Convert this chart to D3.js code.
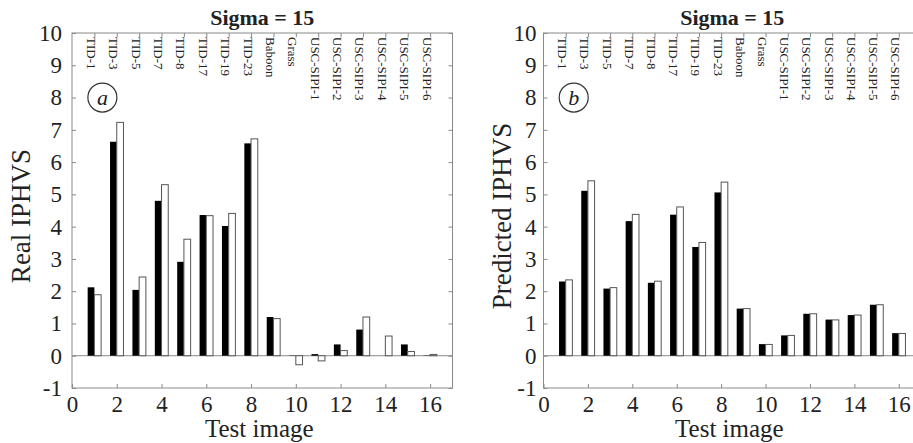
<!DOCTYPE html>
<html>
<head>
<meta charset="utf-8">
<script src="https://cdn.jsdelivr.net/npm/d3@7"></script>
<style>
  html, body { margin: 0; padding: 0; background: #fff; }
  svg { display: block; }
  text { font-family: "Liberation Serif", "Times New Roman", serif; fill: #222; }
</style>
</head>
<body>
<svg id="chart" width="913" height="443"></svg>
<script>
// ---- data ----
const imageIds = [1,2,3,4,5,6,7,8,9,10,11,12,13,14,15,16];
const imageNames = ["TID-1","TID-3","TID-5","TID-7","TID-8","TID-17","TID-19","TID-23",
  "Baboon","Grass","USC-SIPI-1","USC-SIPI-2","USC-SIPI-3","USC-SIPI-4","USC-SIPI-5","USC-SIPI-6"];
// Panel (a) Real IPHVS
const realBlack = [2.12, 6.63, 2.04, 4.80, 2.91, 4.36, 4.02, 6.58, 1.20, 0.01, 0.05, 0.35, 0.81, 0.00, 0.35, 0.01];
const realWhite = [1.89, 7.23, 2.44, 5.30, 3.61, 4.34, 4.41, 6.72, 1.15, -0.28, -0.16, 0.16, 1.20, 0.61, 0.13, 0.04];
// Panel (b) Predicted IPHVS
const predBlack = [2.30, 5.11, 2.08, 4.17, 2.26, 4.37, 3.37, 5.06, 1.46, 0.36, 0.63, 1.30, 1.12, 1.26, 1.58, 0.70];
const predWhite = [2.35, 5.42, 2.11, 4.38, 2.31, 4.61, 3.51, 5.38, 1.46, 0.35, 0.63, 1.30, 1.11, 1.26, 1.58, 0.69];
const yTicks = [-1,0,1,2,3,4,5,6,7,8,9,10];
const xTicks = [0,2,4,6,8,10,12,14,16];
const titleText = "Sigma = 15";
const xLabel = "Test image";

const svg = d3.select("#chart");

function panel(opts) {
  const x = d3.scaleLinear().domain([0, 17]).range([opts.x0, opts.x1]);
  const y = d3.scaleLinear().domain([-1, 10]).range([388, 33]);
  const g = svg.append("g");
  const stroke = "#8a8a8a";

  // zero line
  g.append("line").attr("x1", x(0)).attr("x2", x(17)).attr("y1", y(0)).attr("y2", y(0))
    .attr("stroke", stroke).attr("stroke-width", 1);

  const bw = x(0.3) - x(0);
  // black bars
  g.selectAll("rect.b").data(imageIds).join("rect").attr("class","b")
    .attr("x", d => x(d) - bw)
    .attr("width", bw)
    .attr("y", (d,i) => y(Math.max(0, opts.black[i])))
    .attr("height", (d,i) => Math.abs(y(opts.black[i]) - y(0)))
    .attr("fill", "#000");
  // white bars
  g.selectAll("rect.w").data(imageIds).join("rect").attr("class","w")
    .attr("x", d => x(d))
    .attr("width", bw)
    .attr("y", (d,i) => y(Math.max(0, opts.white[i])))
    .attr("height", (d,i) => Math.abs(y(opts.white[i]) - y(0)))
    .attr("fill", "#fff").attr("stroke", "#555").attr("stroke-width", 1)
    .attr("display", (d,i) => opts.white[i] === 0 ? "none" : null);

  // box
  g.append("rect").attr("x", x(0)).attr("y", y(10)).attr("width", x(17) - x(0)).attr("height", y(-1) - y(10))
    .attr("fill", "none").attr("stroke", stroke).attr("stroke-width", 1);

  // axes with inward ticks
  const tk = 4;
  const fmt = d => String(d);
  const yl = g.append("g").attr("transform", `translate(${x(0)},0)`)
    .call(d3.axisLeft(y).tickValues(yTicks).tickSize(-tk).tickPadding(opts.ypad).tickFormat(fmt));
  const yr = g.append("g").attr("transform", `translate(${x(17)},0)`)
    .call(d3.axisRight(y).tickValues(yTicks).tickSize(-tk).tickFormat(""));
  const xb = g.append("g").attr("transform", `translate(0,${y(-1)})`)
    .call(d3.axisBottom(x).tickValues(xTicks).tickSize(-tk).tickPadding(8).tickFormat(fmt));
  const xt = g.append("g").attr("transform", `translate(0,${y(10)})`)
    .call(d3.axisTop(x).tickValues(imageIds).tickSize(-tk).tickFormat(""));
  [yl, yr, xb, xt].forEach(a => {
    a.select(".domain").remove();
    a.selectAll(".tick line").attr("stroke", stroke);
    a.selectAll(".tick text").attr("fill", "#222").style("font-family", '"Liberation Serif", serif').style("font-size", "23px");
  });
  xb.selectAll(".tick text").attr("dy", "0.71em");

  // category labels
  g.selectAll("text.cat").data(imageNames).join("text").attr("class","cat")
    .attr("transform", (d,i) => `translate(${x(imageIds[i]) - 3},${y(10) + 4}) rotate(90)`)
    .attr("dominant-baseline", "central")
    .style("font-size", "13px")
    .text(d => d);

  // circled letter
  g.append("circle").attr("cx", x(1) + 8).attr("cy", y(8)).attr("r", 14.5)
    .attr("fill", "none").attr("stroke", "#333").attr("stroke-width", 1.2);
  g.append("text").attr("x", x(1) + 8).attr("y", y(8)).attr("text-anchor", "middle")
    .attr("dominant-baseline", "central").style("font-size", "22px").style("font-style", "italic")
    .text(opts.letter);

  // title
  g.append("text").attr("x", (x(0) + x(17)) / 2).attr("y", 25).attr("text-anchor", "middle")
    .style("font-size", "22px").style("font-weight", "bold").text(titleText);
  // x label
  g.append("text").attr("x", (x(0) + x(16.2)) / 2 + 6).attr("y", 437).attr("text-anchor", "middle")
    .style("font-size", "25px").text(xLabel);
  // y label
  g.append("text").attr("transform", `translate(${opts.ylx},216) rotate(-90)`)
    .attr("text-anchor", "middle").attr("dominant-baseline", "central")
    .style("font-size", "27px").text(opts.ylabel);
}

panel({ x0: 72, x1: 452.5, black: realBlack, white: realWhite, letter: "a", ylabel: "Real IPHVS", ylx: 21, ypad: 10 });
panel({ x0: 543.5, x1: 921, black: predBlack, white: predWhite, letter: "b", ylabel: "Predicted IPHVS", ylx: 502, ypad: 7 });
</script>
</body>
</html>
